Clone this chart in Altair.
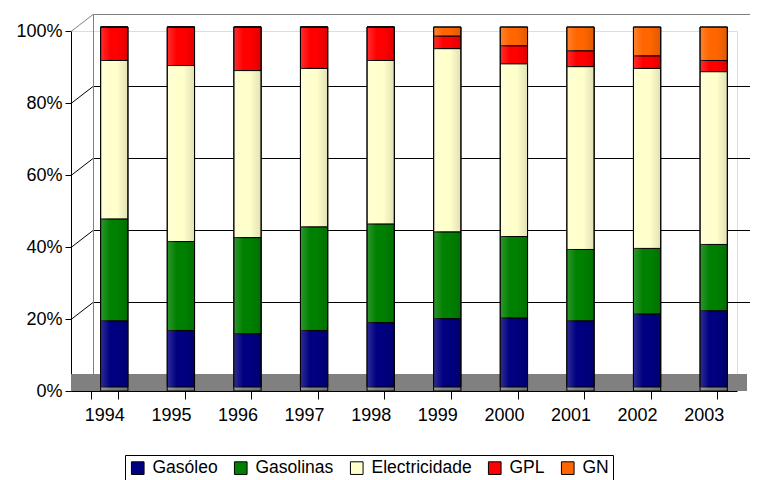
import altair as alt
import pandas as pd

years = ["1994", "1995", "1996", "1997", "1998", "1999", "2000", "2001", "2002", "2003"]
series = ["Gasóleo", "Gasolinas", "Electricidade", "GPL", "GN"]
colors = ["#000080", "#008000", "#FFFFCC", "#FF0000", "#FF6600"]

gasoleo = [18.4, 15.7, 14.8, 15.7, 17.9, 19.0, 19.2, 18.4, 20.3, 21.2]
gasolinas = [28.3, 24.7, 26.7, 28.8, 27.4, 24.1, 22.6, 19.8, 18.2, 18.4]
electricidade = [44.0, 48.9, 46.4, 44.0, 45.4, 50.9, 48.0, 50.8, 50.0, 48.0]
gpl = [9.3, 10.7, 12.1, 11.5, 9.3, 3.5, 5.0, 4.4, 3.5, 3.1]
gn = [0.0, 0.0, 0.0, 0.0, 0.0, 2.5, 5.2, 6.6, 8.0, 9.3]

tick_values = [0, 0.2, 0.4, 0.6, 0.8, 1.0]

values = [gasoleo, gasolinas, electricidade, gpl, gn]
rows = []
for si, (name, vals) in enumerate(zip(series, values)):
    for y, v in zip(years, vals):
        rows.append({"year": y, "series": name, "order": si, "value": v})
df = pd.DataFrame(rows)
totals = pd.DataFrame({"year": years, "total": [1.0] * len(years)})
grid_df = pd.DataFrame({"v": tick_values})

FONT = "Liberation Sans"
x_scale = alt.Scale(paddingInner=0.59, paddingOuter=0.295)
y_scale = alt.Scale(domain=[0, 1])
DEPTH_X, DEPTH_Y = 22, 17

x_enc = alt.X("year:N", sort=years, scale=x_scale, title=None,
              axis=alt.Axis(labelAngle=0, labelFontSize=18, labelColor="black",
                            labelFont=FONT,
                            tickBand="extent", tickSize=8, tickColor="black",
                            domainColor="black", labelPadding=7, grid=False))

floor = alt.Chart(totals).mark_rect(color="#808080").encode(
    x=alt.value(0), x2=alt.value(676), y=alt.value(343), y2=alt.value(360)
)

grid_color = alt.condition("datum.v === 1", alt.value("#808080"), alt.value("black"))

back_grid = alt.Chart(grid_df).transform_filter("datum.v > 0").mark_rule(
    yOffset=-DEPTH_Y + 0.5, y2Offset=-DEPTH_Y + 0.5, strokeWidth=1
).encode(
    y=alt.Y("v:Q", scale=y_scale), y2="v:Q",
    x=alt.value(DEPTH_X), x2=alt.value(666 + DEPTH_X),
    color=grid_color,
)

connectors = alt.Chart(grid_df).transform_filter("datum.v > 0").mark_rule(
    yOffset=0.5, y2Offset=-DEPTH_Y + 0.5, strokeWidth=1
).encode(
    y=alt.Y("v:Q", scale=y_scale), y2="v:Q",
    x=alt.value(0), x2=alt.value(DEPTH_X),
    color=grid_color,
)

left_wall = alt.Chart(totals.head(1)).mark_rule(
    color="#808080", strokeWidth=1, xOffset=0.5
).encode(
    x=alt.value(DEPTH_X), y=alt.value(-DEPTH_Y), y2=alt.value(360 - DEPTH_Y)
)

bars = alt.Chart(df).mark_bar(xOffset=10, yOffset=-4, stroke="black", strokeWidth=1).encode(
    x=x_enc,
    y=alt.Y("value:Q", stack="normalize", scale=y_scale, title=None,
            axis=alt.Axis(format=".0%", values=tick_values,
                          labelFontSize=18, labelColor="black", labelFont=FONT,
                          tickColor="black",
                          tickSize=6, domainColor="black", labelPadding=3,
                          grid=False)),
    color=alt.Color("series:N", sort=series,
                    scale=alt.Scale(domain=series, range=colors),
                    legend=alt.Legend(title=None, orient="none", direction="horizontal",
                                      legendX=54, legendY=424,
                                      symbolType="square", symbolSize=160,
                                      symbolStrokeColor="black", symbolStrokeWidth=1,
                                      symbolOpacity=1,
                                      labelFontSize=17.5, labelColor="black",
                                      labelFont=FONT, columnPadding=14, labelOffset=6,
                                      strokeColor="black", padding=4)),
    order=alt.Order("order:Q"),
)

shade = alt.Chart(totals).mark_bar(
    xOffset=10, yOffset=-4,
    fill=alt.Gradient(
        gradient="linear", x1=0, x2=1, y1=0, y2=0,
        stops=[
            alt.GradientStop(color="rgba(255,255,255,0.18)", offset=0),
            alt.GradientStop(color="rgba(255,255,255,0.0)", offset=0.35),
            alt.GradientStop(color="rgba(0,0,0,0.0)", offset=0.6),
            alt.GradientStop(color="rgba(0,0,0,0.12)", offset=1),
        ],
    ),
    stroke="black", strokeWidth=1, fillOpacity=1,
).encode(
    x=alt.X("year:N", sort=years, scale=x_scale),
    y=alt.Y("total:Q", stack=None, scale=y_scale),
)

chart = alt.layer(floor, back_grid, connectors, left_wall, bars, shade).properties(
    width=666, height=360,
    autosize=alt.AutoSizeParams(type="none"),
    padding={"left": 63, "top": 23, "right": 13, "bottom": 89},
).configure_view(stroke=None).configure(font=FONT)

chart.save("out.html", embed_options={"renderer": "svg", "actions": False})
